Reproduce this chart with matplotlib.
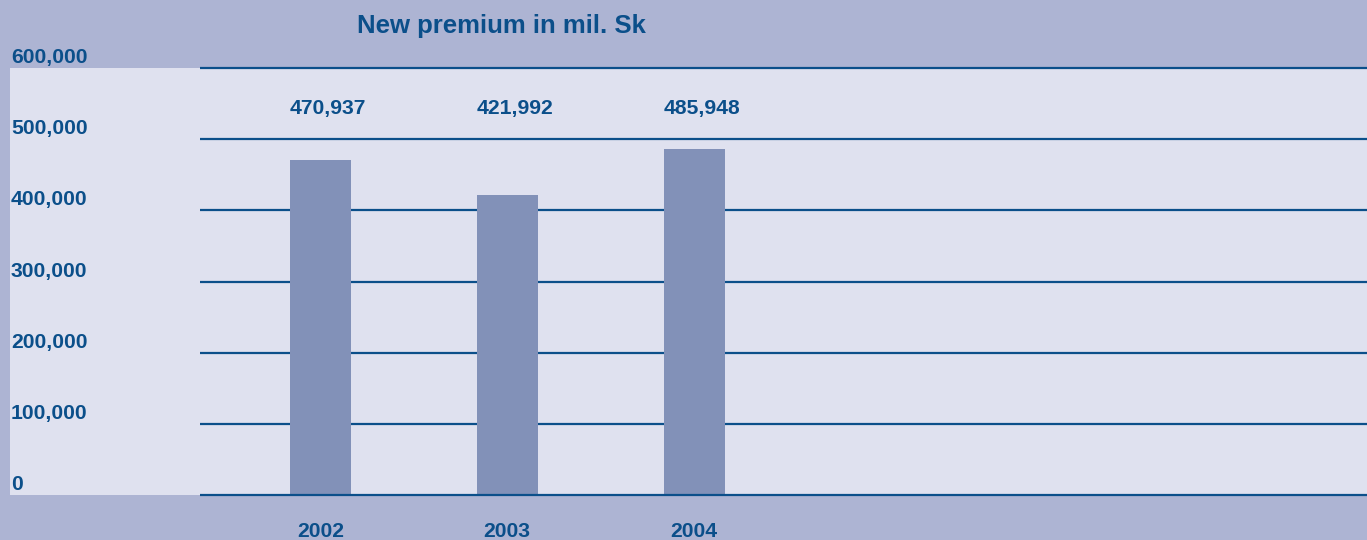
import matplotlib
matplotlib.use("Agg")
import matplotlib.pyplot as plt
import matplotlib.transforms as mtransforms

years = ["2002", "2003", "2004"]
premium = [470937, 421992, 485948]
y_ticks = [0, 100000, 200000, 300000, 400000, 500000, 600000]
y_labels = ["0", "100,000", "200,000", "300,000", "400,000", "500,000", "600,000"]

outer = "#adb4d3"
inner = "#dfe1ef"
bar_col = "#8291b8"
navy = "#0b4f8a"

plt.rcParams["font.family"] = ["Liberation Sans", "DejaVu Sans"]

fig = plt.figure(figsize=(13.67, 5.4), dpi=100, facecolor=outer)
ax = fig.add_axes([10 / 1367, 45 / 540, 1357 / 1367, 427 / 540])
ax.set_facecolor(inner)
for s in ax.spines.values():
    s.set_visible(False)
ax.set_xticks([])
ax.set_yticks([])

x = list(range(len(years)))
ax.set_xlim(-1.66, 5.6)
ax.set_ylim(0, 600000)

ax.bar(x, premium, width=0.326, color=bar_col, zorder=2)

# grid lines start a bit right of the left edge
ax.hlines(y_ticks[1:], -0.644, 5.6, color=navy, lw=1.6, zorder=1, clip_on=False)
ax.hlines([0], -0.644, 5.6, color=navy, lw=1.6, zorder=3, clip_on=False)

lab_tr = mtransforms.offset_copy(
    mtransforms.blended_transform_factory(ax.transAxes, ax.transData),
    fig=fig, x=1, y=5, units="dots")
for v, t in zip(y_ticks, y_labels):
    ax.text(0, v, t, transform=lab_tr, ha="left", va="baseline",
            fontsize=15.2, fontweight="bold", color=navy, clip_on=False)

for xi, v in zip(x, premium):
    ax.text(xi + 0.04, 535000, f"{v:,}", ha="center", va="baseline",
            fontsize=15.2, fontweight="bold", color=navy)

for xi, yr in zip(x, years):
    ax.text(xi, -59000, yr, ha="center", va="baseline",
            fontsize=15.2, fontweight="bold", color=navy, clip_on=False)

fig.text(501 / 1367, 1 - 33 / 540, "New premium in mil. Sk", ha="center",
         va="baseline", fontsize=18.5, fontweight="bold", color=navy)

fig.savefig("out.png", dpi=100, facecolor=outer)
